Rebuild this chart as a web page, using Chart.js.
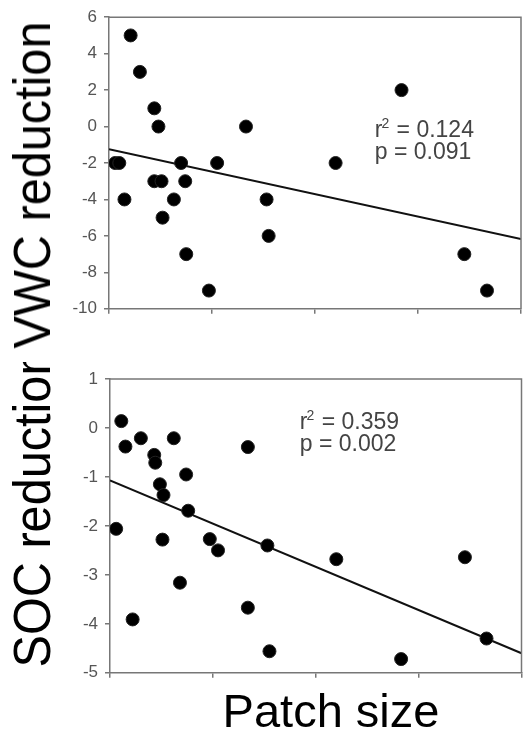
<!DOCTYPE html>
<html>
<head>
<meta charset="utf-8">
<script src="https://cdn.jsdelivr.net/npm/chart.js@4"></script>
<style>
  body { margin: 0; background: #fff; }
  #wrap { position: relative; width: 529px; height: 736px; overflow: hidden; font-family: "Liberation Sans", Arial, sans-serif; }
  canvas { position: absolute; left: 0; }
  #vwcCanvas { top: 0; }
  #socCanvas { top: 345px; }
  .ytitle { position: absolute; left: 32px; font-size: 52px; line-height: 52px; white-space: nowrap; color: #000;
            transform: translate(-50%, -50%) rotate(-90deg) scaleX(0.935); }
  #socClip { position: absolute; left: 0; top: 362px; width: 100px; height: 374px; overflow: hidden; }
  #xtitle { position: absolute; left: 331px; top: 688px; font-size: 47px; line-height: 46px; white-space: nowrap;
            transform: translateX(-50%); color: #000; }
</style>
</head>
<body>
<div id="wrap">
  <canvas id="vwcCanvas" width="529" height="326"></canvas>
  <canvas id="socCanvas" width="529" height="345"></canvas>
  <div class="ytitle" style="top:185px;">VWC reduction</div>
  <div id="socClip"><div class="ytitle" style="top:146px;">SOC reduction</div></div>
  <div id="xtitle">Patch size</div>
</div>
<script>
// --- data (x in axis-tick units, no labels on x) ---
const xTicks = [0, 1, 2, 3, 4];
const fitX = [0, 4];

const vwcX = [0.21, 0.30, 0.44, 0.48, 1.33, 0.06, 0.10, 0.15, 0.44, 0.51, 0.52, 0.70,
              0.74, 0.63, 0.75, 0.97, 1.05, 1.53, 1.55, 2.84, 2.20, 3.45, 3.67];
const vwcY = [5, 3, 1, 0, 0, -2, -2, -4, -3, -3, -5, -2,
              -3, -4, -7, -9, -2, -4, -6, 2, -2, -7, -9];
const vwcFit = [-1.25, -6.17];
const vwcTicks = [-10, -8, -6, -4, -2, 0, 2, 4, 6];
const vwcNote = ['0.124', '0.091'];

const socX = [0.11, 0.15, 0.30, 0.62, 0.43, 0.44, 0.74, 0.485, 0.52, 0.76, 0.06, 0.51,
              0.97, 1.05, 1.53, 1.34, 0.68, 0.22, 1.34, 1.55, 2.20, 3.45, 3.66, 2.83];
const socY = [0.14, -0.38, -0.21, -0.21, -0.55, -0.71, -0.95, -1.15, -1.37, -1.69, -2.06, -2.28,
              -2.27, -2.50, -2.40, -0.39, -3.16, -3.91, -3.67, -4.56, -2.68, -2.64, -4.30, -4.72];
const socFit = [-1.07, -4.60];
const socTicks = [-5, -4, -3, -2, -1, 0, 1];
const socNote = ['0.359', '0.002'];

const AXIS_COLOR = '#777';

// draws top/right frame lines and the r²/p text
const panelExtras = {
    id: 'panelExtras',
    afterDatasetsDraw(chart, args, opts) {
        const { ctx, chartArea: a, scales } = chart;
        ctx.save();
        ctx.strokeStyle = AXIS_COLOR;
        ctx.lineWidth = 1.5;
        ctx.beginPath();
        ctx.moveTo(a.left, a.top);
        ctx.lineTo(a.right, a.top);
        ctx.lineTo(a.right, a.bottom);
        ctx.stroke();

        const x = scales.x.getPixelForValue(opts.at[0]);
        const y = scales.y.getPixelForValue(opts.at[1]);
        ctx.fillStyle = '#444';
        ctx.textBaseline = 'alphabetic';
        ctx.font = '23px "Liberation Sans", Arial';
        ctx.fillText('r', x, y);
        const wr = ctx.measureText('r').width;
        ctx.font = '14px "Liberation Sans", Arial';
        ctx.fillText('2', x + wr - 1, y - 9);
        const w2 = ctx.measureText('2').width;
        ctx.font = '23px "Liberation Sans", Arial';
        ctx.fillText(' = ' + opts.lines[0], x + wr + w2, y);
        ctx.fillText('p = ' + opts.lines[1], x, y + 22);
        ctx.restore();
    }
};

function makePanel(canvasId, xs, ys, fitYs, yTicks, note, noteAt, box) {
    return new Chart(document.getElementById(canvasId), {
        type: 'scatter',
        data: {
            datasets: [
                {
                    data: xs.map((x, i) => ({ x: x, y: ys[i] })),
                    backgroundColor: '#000',
                    borderColor: '#222',
                    borderWidth: 1,
                    pointRadius: 6.5
                },
                {
                    type: 'line',
                    data: fitX.map((x, i) => ({ x: x, y: fitYs[i] })),
                    borderColor: '#111',
                    borderWidth: 2,
                    pointRadius: 0,
                    fill: false
                }
            ]
        },
        options: {
            responsive: false,
            animation: false,
            devicePixelRatio: 1,
            layout: { padding: { top: box.top, right: box.right, left: 0, bottom: 0 } },
            plugins: {
                legend: { display: false },
                tooltip: { enabled: false },
                panelExtras: { lines: note, at: noteAt }
            },
            scales: {
                x: {
                    type: 'linear',
                    min: xTicks[0],
                    max: xTicks[xTicks.length - 1],
                    afterBuildTicks: s => { s.ticks = xTicks.map(v => ({ value: v })); },
                    afterFit: s => { s.height = box.xh; },
                    ticks: { display: false },
                    grid: { drawOnChartArea: false, drawTicks: true, tickLength: 5, color: AXIS_COLOR, lineWidth: 1.5 },
                    border: { display: true, color: AXIS_COLOR, width: 1.5 }
                },
                y: {
                    type: 'linear',
                    min: yTicks[0],
                    max: yTicks[yTicks.length - 1],
                    afterBuildTicks: s => { s.ticks = yTicks.map(v => ({ value: v })); },
                    afterFit: s => { s.width = box.yw; },
                    ticks: {
                        color: '#555',
                        padding: 7,
                        font: { family: '"Liberation Sans", Arial', size: 17 }
                    },
                    grid: { drawOnChartArea: false, drawTicks: true, tickLength: 5, color: AXIS_COLOR, lineWidth: 1.5 },
                    border: { display: true, color: AXIS_COLOR, width: 1.5 }
                }
            }
        },
        plugins: [panelExtras]
    });
}

makePanel('vwcCanvas', vwcX, vwcY, vwcFit, vwcTicks, vwcNote, [2.58, -0.6],
          { top: 16, right: 8, xh: 12, yw: 109 });
makePanel('socCanvas', socX, socY, socFit, socTicks, socNote, [1.845, -0.02],
          { top: 34, right: 6, xh: 13, yw: 110 });
</script>
</body>
</html>
